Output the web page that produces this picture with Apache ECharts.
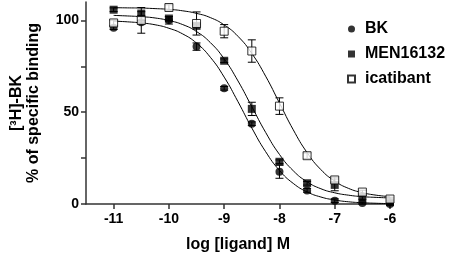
<!DOCTYPE html>
<html>
<head>
<meta charset="utf-8">
<style>
html, body { margin: 0; padding: 0; background: #fff; }
#myChart { width: 450px; height: 258px; }
</style>
<script src="https://cdn.jsdelivr.net/npm/echarts@6/dist/echarts.min.js"></script>
</head>
<body>
<div id="myChart"></div>
<script>
// log dose of each measured point
const doses = [-11, -10.5, -10, -9.5, -9, -8.5, -8, -7.5, -7, -6.5, -6]
const bk = [96, 99, 100, 85.7, 63, 43.7, 17.6, 7.4, 1.8, 0.5, 0]
const bkErr = [1, 1, 2, 2, 1, 1, 3.6, 1, 1, 0.5, 0.5]
const men = [105.8, 103.7, 101, 97, 78, 51.8, 23, 11.3, 10.4, 3.6, 1]
const menErr = [1, 1, 1, 1, 1, 3.6, 1, 1, 3.2, 1, 1]
const ica = [98.6, 100, 107, 98.3, 94.1, 83.3, 53.3, 26.3, 13.1, 6.5, 2.7]
const icaErr = [1.5, 7, 1.5, 6.3, 3.6, 6.1, 4.5, 1.5, 1.5, 1, 1]

// fitted curves
const curveX = [-11, -10.75, -10.5, -10.25, -10, -9.75, -9.5, -9.25, -9, -8.75, -8.5,
  -8.25, -8, -7.75, -7.5, -7.25, -7, -6.75, -6.5, -6.25, -6]
const bkFit = [99.6, 99.2, 98.6, 97.6, 95.7, 92.6, 87.6, 79.9, 69.1, 55.7, 41.4,
  28.5, 18.3, 11.2, 6.6, 3.8, 2.2, 1.2, 0.7, 0.4, 0.2]
const menFit = [102.7, 102.4, 102.0, 101.3, 99.9, 97.7, 93.9, 87.9, 79.0, 67.0, 53.0,
  39.0, 27.0, 18.1, 12.1, 8.3, 6.1, 4.8, 4.0, 3.6, 3.3]
const icaFit = [106.9, 106.8, 106.7, 106.4, 106.0, 105.2, 103.8, 101.5, 97.5, 91.3, 82.0,
  69.6, 55.0, 40.4, 28.0, 18.7, 12.5, 8.5, 6.2, 4.8, 4.0]

const xTicks = [-11, -10, -9, -8, -7, -6]
const yTicks = [0, 25, 50, 75, 100]
const yLabels = [0, 50, 100]

const FONT = 'Liberation Sans, Arial, sans-serif'

function pts (ys) {
  return doses.map((d, i) => [d, ys[i]])
}
function fit (ys) {
  return curveX.map((d, i) => [d, ys[i]])
}
function errs (ys, es) {
  return doses.map((d, i) => [d, ys[i] - es[i], ys[i] + es[i]])
}

function renderErr (params, api) {
  let top = api.coord([api.value(0), api.value(2)])
  let bot = api.coord([api.value(0), api.value(1)])
  let w = 4
  let st = { stroke: '#000', lineWidth: 1 }
  return {
    type: 'group',
    children: [
      { type: 'line', shape: { x1: top[0], y1: top[1], x2: bot[0], y2: bot[1] }, style: st },
      { type: 'line', shape: { x1: top[0] - w, y1: top[1], x2: top[0] + w, y2: top[1] }, style: st },
      { type: 'line', shape: { x1: bot[0] - w, y1: bot[1], x2: bot[0] + w, y2: bot[1] }, style: st }
    ]
  }
}

function errSeries (ys, es, z) {
  return {
    type: 'custom',
    renderItem: renderErr,
    data: errs(ys, es),
    silent: true,
    z: z
  }
}
function fitSeries (ys) {
  return {
    type: 'line',
    data: fit(ys),
    smooth: true,
    showSymbol: false,
    silent: true,
    lineStyle: { color: '#000', width: 1 },
    z: 1
  }
}

let myChart = echarts.init(document.getElementById('myChart'), null, { renderer: 'canvas' })
myChart.setOption({
  animation: false,
  grid: { left: 82, right: 60, top: 2, bottom: 52 },
  legend: {
    orient: 'vertical',
    left: 342,
    top: 16,
    itemWidth: 7,
    itemHeight: 7,
    itemGap: 9,
    textStyle: { fontSize: 16, fontWeight: 'bold', color: '#000', fontFamily: FONT, lineHeight: 16, padding: [0, 0, 0, 5] },
    data: [
      { name: 'BK', icon: 'circle' },
      { name: 'MEN16132', icon: 'rect' },
      { name: 'icatibant', icon: 'rect' }
    ]
  },
  xAxis: {
    type: 'value',
    min: -11.5,
    max: -6,
    name: 'log [ligand] M',
    nameLocation: 'middle',
    nameGap: 33,
    nameTextStyle: { fontSize: 16, fontWeight: 'bold', color: '#000', fontFamily: FONT },
    splitLine: { show: false },
    axisLine: { onZero: false, lineStyle: { color: '#333', width: 1.5 } },
    axisTick: { length: 5, lineStyle: { color: '#333', width: 1.5 }, customValues: xTicks },
    axisLabel: { fontSize: 14, fontWeight: 'bold', color: '#000', fontFamily: FONT, margin: 8, customValues: xTicks }
  },
  yAxis: {
    type: 'value',
    min: 0,
    max: 110,
    name: '[³H]-BK\n% of specific binding',
    nameLocation: 'middle',
    nameGap: 44,
    nameTextStyle: { fontSize: 16, fontWeight: 'bold', color: '#000', fontFamily: FONT, lineHeight: 17 },
    splitLine: { show: false },
    axisLine: { show: true, lineStyle: { color: '#333', width: 1.5 } },
    axisTick: { show: true, length: 5, lineStyle: { color: '#333', width: 1.5 }, customValues: yTicks },
    axisLabel: { fontSize: 14, fontWeight: 'bold', color: '#000', fontFamily: FONT, margin: 7, customValues: yLabels }
  },
  series: [
    fitSeries(bkFit),
    fitSeries(menFit),
    fitSeries(icaFit),
    errSeries(bk, bkErr, 2),
    errSeries(men, menErr, 2),
    errSeries(ica, icaErr, 2),
    {
      name: 'BK',
      type: 'scatter',
      symbol: 'circle',
      symbolSize: 8,
      itemStyle: { color: '#000' },
      data: pts(bk),
      z: 3
    },
    {
      name: 'MEN16132',
      type: 'scatter',
      symbol: 'rect',
      symbolSize: 8,
      itemStyle: { color: '#000' },
      data: pts(men),
      z: 4
    },
    {
      name: 'icatibant',
      type: 'scatter',
      symbol: 'rect',
      symbolSize: 8,
      itemStyle: { color: '#fff', borderColor: '#000', borderWidth: 1 },
      data: pts(ica),
      z: 5
    }
  ]
})
</script>
</body>
</html>
